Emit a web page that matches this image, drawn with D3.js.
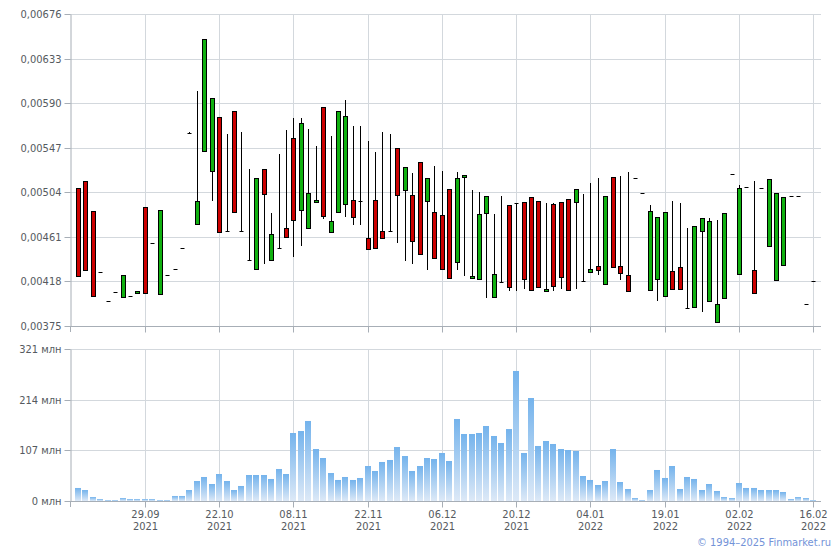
<!DOCTYPE html>
<html>
<head>
<meta charset="utf-8">
<script src="https://cdn.jsdelivr.net/npm/d3@7"></script>
<style>
  html, body { margin: 0; padding: 0; background: #ffffff; }
  svg { display: block; font-family: "DejaVu Sans Condensed", "DejaVu Sans", sans-serif; }
</style>
</head>
<body>
<svg id="chart" width="840" height="550"></svg>
<script>
// ---------- DATA ----------
const dates = [
  "16.09.2021","17.09.2021","20.09.2021","21.09.2021","22.09.2021","23.09.2021","24.09.2021","27.09.2021","28.09.2021","29.09.2021",
  "01.10.2021","04.10.2021","06.10.2021","08.10.2021","11.10.2021","13.10.2021","15.10.2021","19.10.2021","20.10.2021","22.10.2021",
  "25.10.2021","26.10.2021","27.10.2021","28.10.2021","29.10.2021","01.11.2021","02.11.2021","03.11.2021","05.11.2021","08.11.2021",
  "09.11.2021","10.11.2021","11.11.2021","12.11.2021","15.11.2021","16.11.2021","17.11.2021","18.11.2021","19.11.2021","22.11.2021",
  "23.11.2021","24.11.2021","25.11.2021","26.11.2021","29.11.2021","30.11.2021","01.12.2021","02.12.2021","03.12.2021","06.12.2021",
  "07.12.2021","08.12.2021","09.12.2021","10.12.2021","13.12.2021","14.12.2021","15.12.2021","16.12.2021","17.12.2021","20.12.2021",
  "21.12.2021","22.12.2021","23.12.2021","24.12.2021","27.12.2021","28.12.2021","29.12.2021","30.12.2021","03.01.2022","04.01.2022",
  "05.01.2022","06.01.2022","10.01.2022","11.01.2022","12.01.2022","13.01.2022","14.01.2022","17.01.2022","18.01.2022","19.01.2022",
  "20.01.2022","21.01.2022","24.01.2022","25.01.2022","26.01.2022","27.01.2022","28.01.2022","31.01.2022","01.02.2022","02.02.2022",
  "03.02.2022","04.02.2022","07.02.2022","08.02.2022","09.02.2022","10.02.2022","11.02.2022","14.02.2022","15.02.2022","16.02.2022"
];

const open = [
  0.00508,0.00515,0.00486,0.00427,0.00399,0.00408,0.00403,0.00404,0.00407,0.00490,
  0.00455,0.00406,0.00424,0.00430,0.00450,0.00561,0.00473,0.00544,0.00525,0.00577,
  0.00467,0.00582,0.00467,0.00439,0.00430,0.00526,0.00439,0.00450,0.00470,0.00556,
  0.00487,0.00470,0.00495,0.00586,0.00466,0.00485,0.00493,0.00497,0.00496,0.00460,
  0.00497,0.00467,0.00467,0.00547,0.00506,0.00501,0.00533,0.00496,0.00485,0.00482,
  0.00507,0.00437,0.00519,0.00421,0.00420,0.00484,0.00403,0.00417,0.00492,0.00494,
  0.00495,0.00499,0.00496,0.00409,0.00493,0.00495,0.00498,0.00495,0.00418,0.00427,
  0.00433,0.00416,0.00519,0.00433,0.00424,0.00518,0.00503,0.00410,0.00420,0.00404,
  0.00428,0.00432,0.00392,0.00393,0.00467,0.00399,0.00379,0.00402,0.00522,0.00425,
  0.00509,0.00429,0.00508,0.00452,0.00419,0.00434,0.00500,0.00500,0.00396,0.00418
];
const high = [
  0.00508,0.00515,0.00486,0.00427,0.00399,0.00408,0.00424,0.00404,0.00409,0.00490,
  0.00455,0.00487,0.00424,0.00430,0.00450,0.00562,0.00602,0.00652,0.00595,0.00577,
  0.00560,0.00582,0.00562,0.00526,0.00518,0.00526,0.00484,0.00541,0.00564,0.00576,
  0.00576,0.00565,0.00549,0.00586,0.00558,0.00582,0.00593,0.00568,0.00568,0.00553,
  0.00543,0.00562,0.00560,0.00547,0.00528,0.00523,0.00533,0.00518,0.00529,0.00525,
  0.00507,0.00524,0.00521,0.00506,0.00504,0.00500,0.00483,0.00500,0.00492,0.00494,
  0.00495,0.00499,0.00496,0.00494,0.00494,0.00495,0.00498,0.00507,0.00502,0.00513,
  0.00518,0.00500,0.00519,0.00520,0.00524,0.00518,0.00503,0.00492,0.00480,0.00485,
  0.00496,0.00494,0.00470,0.00471,0.00479,0.00479,0.00477,0.00484,0.00522,0.00511,
  0.00509,0.00515,0.00508,0.00517,0.00503,0.00499,0.00500,0.00500,0.00396,0.00418
];
const low = [
  0.00423,0.00429,0.00404,0.00427,0.00399,0.00408,0.00403,0.00404,0.00407,0.00407,
  0.00455,0.00406,0.00424,0.00430,0.00450,0.00561,0.00473,0.00544,0.00497,0.00466,
  0.00467,0.00485,0.00467,0.00439,0.00430,0.00436,0.00439,0.00450,0.00461,0.00443,
  0.00453,0.00470,0.00495,0.00479,0.00466,0.00485,0.00481,0.00473,0.00473,0.00449,
  0.00450,0.00460,0.00467,0.00456,0.00439,0.00436,0.00444,0.00430,0.00441,0.00430,
  0.00421,0.00430,0.00424,0.00421,0.00420,0.00403,0.00403,0.00417,0.00410,0.00410,
  0.00412,0.00410,0.00413,0.00409,0.00410,0.00412,0.00410,0.00412,0.00418,0.00427,
  0.00425,0.00416,0.00432,0.00420,0.00409,0.00518,0.00503,0.00410,0.00400,0.00404,
  0.00411,0.00411,0.00392,0.00393,0.00389,0.00399,0.00379,0.00402,0.00522,0.00425,
  0.00509,0.00407,0.00508,0.00452,0.00419,0.00434,0.00500,0.00500,0.00396,0.00418
];
const close = [
  0.00423,0.00429,0.00404,0.00427,0.00399,0.00408,0.00424,0.00404,0.00409,0.00407,
  0.00455,0.00487,0.00424,0.00430,0.00450,0.00561,0.00496,0.00652,0.00595,0.00466,
  0.00467,0.00485,0.00467,0.00439,0.00518,0.00502,0.00464,0.00450,0.00461,0.00477,
  0.00571,0.00503,0.00497,0.00481,0.00476,0.00582,0.00578,0.00480,0.00496,0.00449,
  0.00450,0.00460,0.00467,0.00501,0.00528,0.00457,0.00444,0.00518,0.00441,0.00430,
  0.00421,0.00518,0.00521,0.00423,0.00483,0.00500,0.00425,0.00417,0.00413,0.00494,
  0.00420,0.00410,0.00413,0.00411,0.00414,0.00422,0.00410,0.00507,0.00418,0.00430,
  0.00429,0.00500,0.00432,0.00426,0.00409,0.00518,0.00503,0.00486,0.00480,0.00485,
  0.00411,0.00411,0.00392,0.00471,0.00479,0.00476,0.00396,0.00484,0.00522,0.00508,
  0.00509,0.00407,0.00508,0.00517,0.00503,0.00499,0.00500,0.00500,0.00396,0.00418
];
// volume, millions
const volume = [
  27.5,23.2,8.4,4.2,2.1,2.1,6.3,4.2,4.2,4.2,
  4.2,2.1,2.1,10.6,10.6,23.2,42.2,50.7,35.9,57.0,
  42.2,23.2,31.7,54.9,54.9,54.9,46.5,67.6,57.0,143.6,
  147.8,169.0,109.8,90.8,59.1,44.4,50.7,44.4,48.6,73.9,
  63.4,82.4,86.6,114.0,95.0,63.4,73.9,90.8,88.7,101.4,
  84.5,173.2,141.5,141.5,143.6,158.4,137.3,122.5,152.0,274.6,
  101.4,217.5,116.2,126.7,120.4,109.8,107.7,105.6,52.8,44.4,
  33.8,42.2,109.8,40.1,25.3,6.3,2.1,23.2,65.5,48.6,
  73.9,25.3,50.7,46.5,23.2,35.9,21.1,8.4,6.3,38.0,
  27.5,27.5,23.2,23.2,23.2,19.0,4.2,8.4,6.3,2.1
];
const priceTicks = [0.00375, 0.00418, 0.00461, 0.00504, 0.00547, 0.00590, 0.00633, 0.00676];
const volumeTicks = [0, 107, 214, 321];
const dateTickIdx = [9, 19, 29, 39, 49, 59, 69, 79, 89, 99];
const copyright = "© 1994–2025 Finmarket.ru";

// ---------- LAYOUT ----------
const svg = d3.select("#chart");
const FONT = "'DejaVu Sans Condensed', 'DejaVu Sans', sans-serif";
const L = 70, R = 821;
const P = { top: 14, bottom: 326 };   // price panel
const V = { top: 349, bottom: 501 };  // volume panel
const gridColor = "#d3d8dd", axisColor = "#a7aeb6", textColor = "#555a60";

const x = d3.scaleLinear().domain([-1.08, 100.05]).range([L, R]);
const yP = d3.scaleLinear().domain([0.00375, 0.00676]).range([P.bottom, P.top]);
const yV = d3.scaleLinear().domain([0, 321]).range([V.bottom, V.top]);
const crisp = v => Math.round(v) + 0.5;
const fmtPrice = d => d3.format(".5f")(d).replace(".", ",");

// gradient for volume bars
const defs = svg.append("defs");
const grad = defs.append("linearGradient").attr("id", "vgrad")
  .attr("x1", 0).attr("y1", 0).attr("x2", 0).attr("y2", 1);
grad.append("stop").attr("offset", "0%").attr("stop-color", "#74b3ec");
grad.append("stop").attr("offset", "100%").attr("stop-color", "#dde9f7");

function panelGrid(yScale, ticks, top, bottom) {
  const g = svg.append("g");
  g.selectAll("line.h").data(ticks).enter().append("line")
    .attr("x1", L).attr("x2", R)
    .attr("y1", d => crisp(yScale(d))).attr("y2", d => crisp(yScale(d)))
    .attr("stroke", gridColor).attr("stroke-width", 1);
  g.selectAll("line.v").data(dateTickIdx).enter().append("line")
    .attr("x1", d => crisp(x(d))).attr("x2", d => crisp(x(d)))
    .attr("y1", top).attr("y2", bottom)
    .attr("stroke", gridColor).attr("stroke-width", 1);
}
panelGrid(yP, priceTicks, P.top, P.bottom);
panelGrid(yV, volumeTicks, V.top, V.bottom);

function styleAxis(g) {
  g.selectAll(".domain").attr("stroke", axisColor);
  g.selectAll(".tick line").attr("stroke", axisColor);
  g.selectAll("text").attr("fill", textColor).attr("font-size", 11)
    .attr("font-family", FONT);
}

// ---------- PRICE PANEL ----------
const yAxisP = svg.append("g").attr("transform", `translate(${L + 0.5},0)`)
  .call(d3.axisLeft(yP).tickValues(priceTicks).tickFormat(fmtPrice).tickSize(6).tickPadding(3).tickSizeOuter(0));
yAxisP.selectAll(".tick").attr("transform", d => `translate(0,${crisp(yP(d))})`);
styleAxis(yAxisP);

const xAxisP = svg.append("g").attr("transform", `translate(0,${P.bottom + 0.5})`)
  .call(d3.axisBottom(x).tickValues(dateTickIdx).tickFormat("").tickSize(6).tickSizeOuter(0));
xAxisP.select(".domain").attr("d", `M${L},0H${R}`);
xAxisP.selectAll(".tick").attr("transform", d => `translate(${crisp(x(d))},0)`);
styleAxis(xAxisP);
svg.append("line").attr("x1", L + 0.5).attr("x2", L + 0.5)
  .attr("y1", P.bottom).attr("y2", P.bottom + 6).attr("stroke", axisColor);

const candles = dates.map((d, i) => ({ i, o: open[i], h: high[i], l: low[i], c: close[i] }));
const cg = svg.append("g");
candles.forEach(k => {
  const cx = crisp(x(k.i));
  if (k.h !== k.l) {
    cg.append("line").attr("x1", cx).attr("x2", cx)
      .attr("y1", Math.round(yP(k.h))).attr("y2", Math.round(yP(k.l)) + 1)
      .attr("stroke", "#000").attr("stroke-width", 1);
  }
  if (k.o === k.c) {
    cg.append("line").attr("x1", cx - 2).attr("x2", cx + 2)
      .attr("y1", crisp(yP(k.o))).attr("y2", crisp(yP(k.o)))
      .attr("stroke", "#000").attr("stroke-width", 1);
  } else {
    const top = Math.round(yP(Math.max(k.o, k.c)));
    const bot = Math.round(yP(Math.min(k.o, k.c)));
    cg.append("rect")
      .attr("x", cx - 2).attr("y", top + 0.5)
      .attr("width", 4).attr("height", Math.max(2, bot - top))
      .attr("fill", k.c > k.o ? "#10b010" : "#cc0000")
      .attr("stroke", "#000").attr("stroke-width", 1);
  }
});

// ---------- VOLUME PANEL ----------
const bw = 6;
svg.append("g").selectAll("rect").data(volume).enter().append("rect")
  .attr("x", (d, i) => Math.round(x(i) - bw / 2))
  .attr("y", d => yV(d))
  .attr("width", bw)
  .attr("height", d => V.bottom - yV(d))
  .attr("fill", "url(#vgrad)");

const yAxisV = svg.append("g").attr("transform", `translate(${L + 0.5},0)`)
  .call(d3.axisLeft(yV).tickValues(volumeTicks).tickFormat(d => d + " млн").tickSize(6).tickPadding(3).tickSizeOuter(0));
yAxisV.selectAll(".tick").attr("transform", d => `translate(0,${crisp(yV(d))})`);
styleAxis(yAxisV);

const xAxisV = svg.append("g").attr("transform", `translate(0,${V.bottom + 0.5})`)
  .call(d3.axisBottom(x).tickValues(dateTickIdx).tickSize(6).tickSizeOuter(0).tickFormat(""));
xAxisV.select(".domain").attr("d", `M${L},0H${R}`);
xAxisV.selectAll(".tick").attr("transform", d => `translate(${crisp(x(d))},0)`);
xAxisV.selectAll(".tick").each(function (d) {
  const parts = dates[d].split(".");
  const t = d3.select(this).append("text").attr("text-anchor", "middle");
  t.append("tspan").attr("x", 0).attr("y", 16).text(parts[0] + "." + parts[1]);
  t.append("tspan").attr("x", 0).attr("y", 28).text(parts[2]);
});
styleAxis(xAxisV);
svg.append("line").attr("x1", L + 0.5).attr("x2", L + 0.5)
  .attr("y1", V.bottom).attr("y2", V.bottom + 6).attr("stroke", axisColor);

// copyright
svg.append("text").attr("x", 831).attr("y", 546).attr("text-anchor", "end")
  .attr("font-family", FONT).attr("font-size", 11).attr("fill", "#7393d8").text(copyright);
</script>
</body>
</html>
